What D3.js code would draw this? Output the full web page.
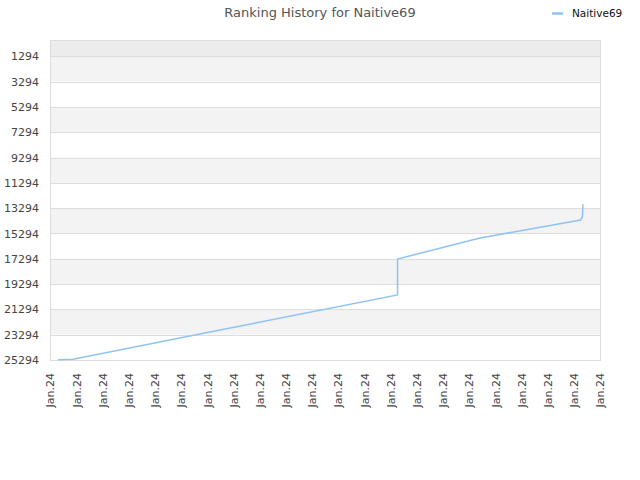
<!DOCTYPE html>
<html>
<head>
<meta charset="utf-8">
<script src="https://cdn.jsdelivr.net/npm/d3@7"></script>
<style>
  body { margin: 0; background: #fff; }
  svg { display: block; font-family: "DejaVu Sans", sans-serif; }
</style>
</head>
<body>
<svg id="chart" width="640" height="480"></svg>
<script>
// ── Ranking history for one player ────────────────────────────────────────
// x = position along the time axis (tick index), y = rank (1 at the top)
const playerName = "Naitive69";
const xTickLabels = d3.range(22).map(() => "Jan.24");
const rankTicks   = [1294, 3294, 5294, 7294, 9294, 11294, 13294, 15294, 17294, 19294, 21294, 23294, 25294];

const timePos = [0.31, 0.88, 6.49, 13.27, 13.27, 16.42, 20.26, 20.33, 20.35];
const ranks   = [25270, 25240, 22923, 20156, 17311, 15650, 14227, 13966, 12986];

const M  = { top: 40, right: 40, bottom: 120, left: 50 };
const VW = 640, VH = 480;
const W  = VW - M.left - M.right;
const H  = VH - M.top  - M.bottom;

const svg = d3.select("#chart");
const g   = svg.append("g").attr("transform", `translate(${M.left},${M.top})`);

const x = d3.scaleLinear().domain([0, xTickLabels.length - 1]).range([0, W]);
const y = d3.scaleLinear().domain([1, 25294]).range([0, H]);

// Alternating bands between rank ticks
const bandEdges = [1, ...rankTicks];
g.append("g").selectAll("rect")
  .data(d3.pairs(bandEdges))
  .join("rect")
  .attr("x", 0).attr("width", W)
  .attr("y", d => y(d[0])).attr("height", d => y(d[1]) - y(d[0]))
  .attr("fill", (d, i) => i === 0 ? "#ececec" : (i % 2 ? "#f3f3f3" : "#ffffff"));

// Grid
g.append("g").selectAll("line")
  .data(rankTicks)
  .join("line")
  .attr("x1", 0).attr("x2", W)
  .attr("y1", d => Math.round(y(d)) + 0.5).attr("y2", d => Math.round(y(d)) + 0.5)
  .attr("stroke", "#dddddd");

// Frame
g.append("rect")
  .attr("x", 0.5).attr("y", 0.5).attr("width", W).attr("height", H)
  .attr("fill", "none").attr("stroke", "#dddddd");

// Y axis labels
const yAxis = g.append("g")
  .call(d3.axisLeft(y).tickValues(rankTicks).tickFormat(d3.format("d"))
    .tickSize(0).tickPadding(11));
yAxis.select(".domain").remove();
yAxis.selectAll("text")
  .attr("font-family", "DejaVu Sans, sans-serif")
  .attr("font-size", "11px").attr("fill", "#444");

// X axis labels (rotated)
const xAxis = g.append("g").attr("transform", `translate(0,${H})`)
  .call(d3.axisBottom(x).tickValues(d3.range(xTickLabels.length))
    .tickFormat(i => xTickLabels[i]).tickSize(0));
xAxis.select(".domain").remove();
xAxis.selectAll("text")
  .attr("font-family", "DejaVu Sans, sans-serif")
  .attr("font-size", "11px").attr("fill", "#444")
  .attr("text-anchor", "end")
  .attr("transform", "rotate(-90)")
  .attr("x", -13).attr("y", 0).attr("dy", "0.35em");

// Line
const pts = d3.zip(timePos, ranks);
g.append("path")
  .datum(pts)
  .attr("fill", "none")
  .attr("stroke", "#90c3f5")
  .attr("stroke-width", 1.5)
  .attr("d", d3.line().x(d => x(d[0])).y(d => y(d[1])));

// Title
svg.append("text")
  .attr("x", VW / 2).attr("y", 17)
  .attr("text-anchor", "middle")
  .attr("font-size", "13px").attr("fill", "#555")
  .text(`Ranking History for ${playerName}`);

// Legend
const leg = svg.append("g").attr("transform", "translate(552,13.5)");
leg.append("line").attr("x1", 0).attr("x2", 11)
  .attr("stroke", "#90c3f5").attr("stroke-width", 2.5);
leg.append("text").attr("x", 20).attr("dy", "0.35em")
  .attr("font-size", "10.5px").attr("fill", "#111")
  .text(playerName);
</script>
</body>
</html>
